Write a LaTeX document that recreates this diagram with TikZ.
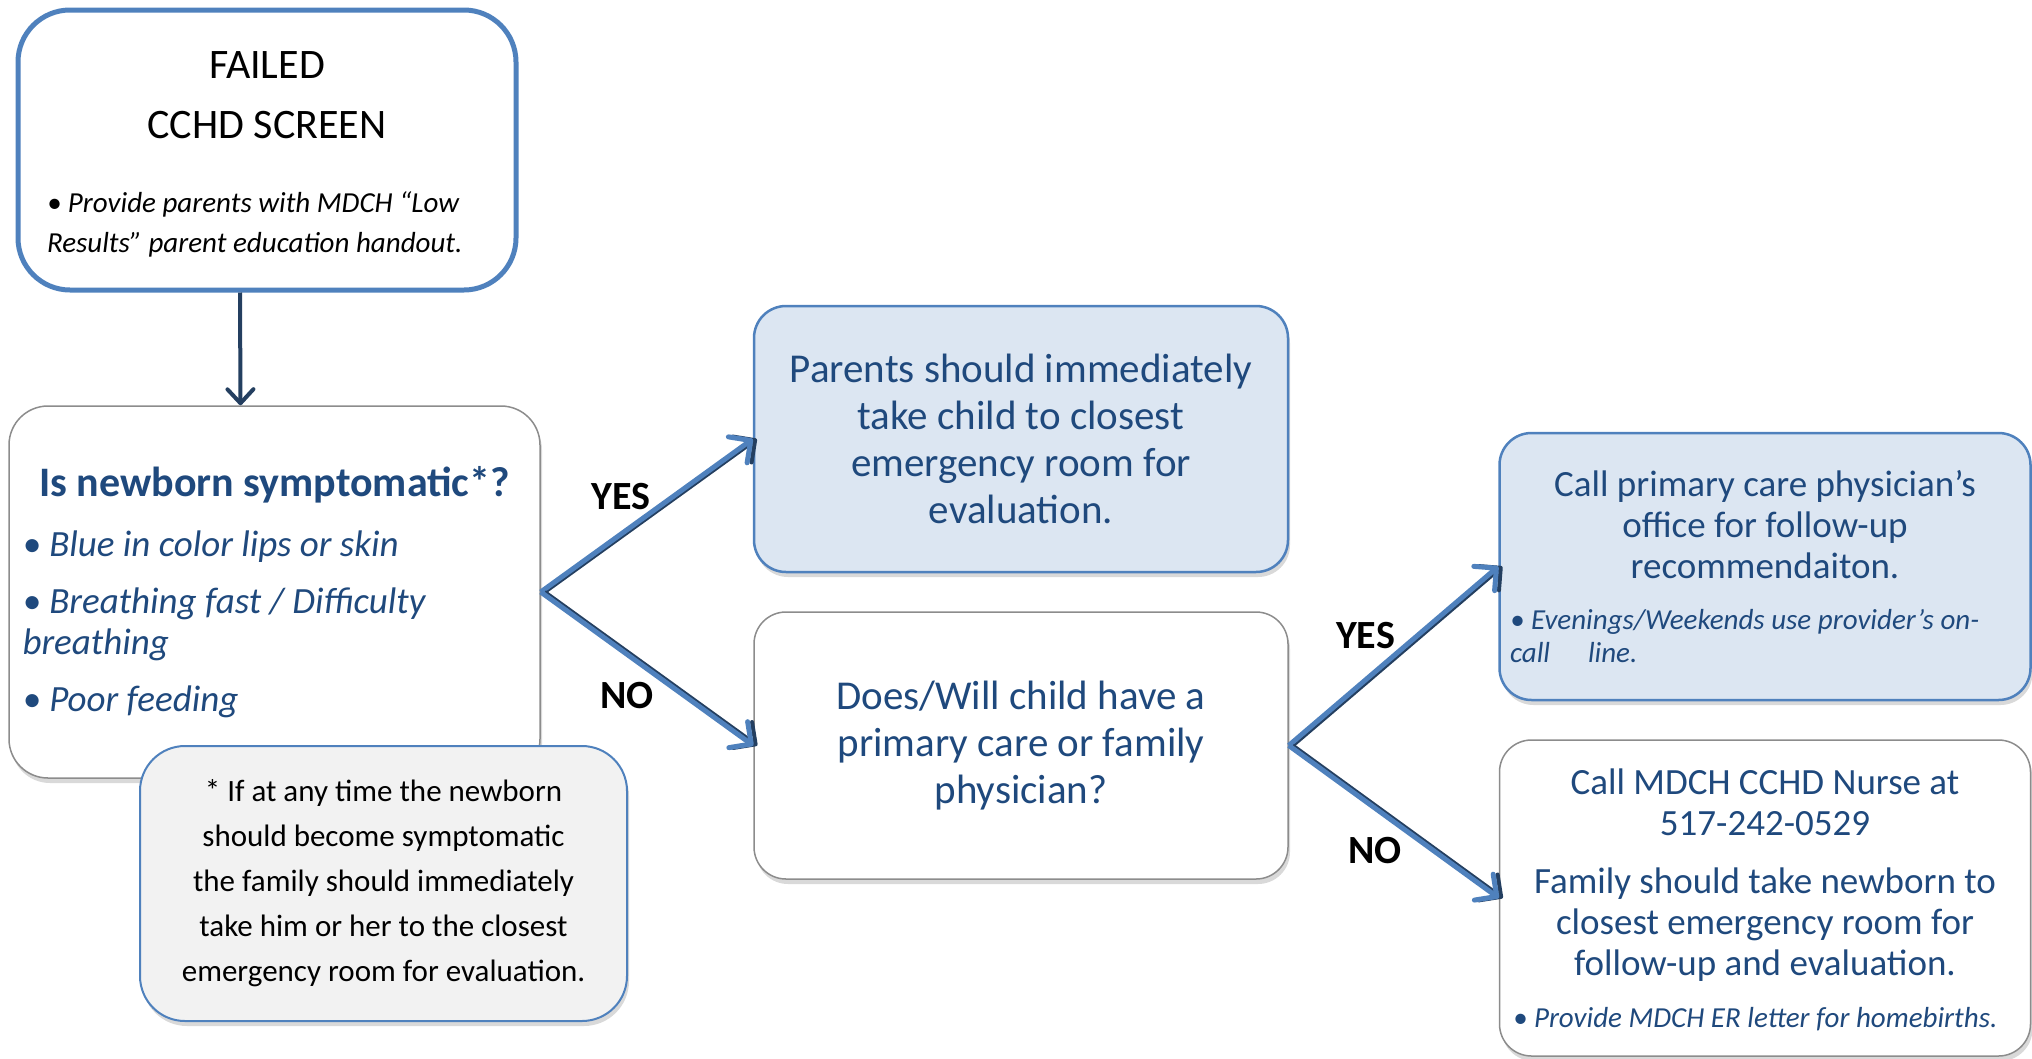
\documentclass[tikz,border=0pt]{standalone}
\usepackage{fontspec}
\setmainfont{Carlito}
\usetikzlibrary{arrows.meta,shadows}

\definecolor{ccblue}{HTML}{4F81BD}
\definecolor{cctext}{HTML}{1F497D}
\definecolor{ccnavy}{HTML}{243F60}
\definecolor{ccfill}{HTML}{DCE6F2}
\definecolor{ccgray}{HTML}{F2F2F2}
\definecolor{ccedge}{HTML}{8C8C8C}

\newcommand{\fsz}[2]{\fontsize{#1}{#2}\selectfont\spaceskip=\fontdimen2\font\relax\xspaceskip=\fontdimen2\font\relax}

\begin{document}
\begin{tikzpicture}[x=1pt,y=-1pt,
  box/.style={rectangle, inner sep=0pt, align=center},
  shade/.style={drop shadow={shadow xshift=2pt, shadow yshift=-5pt, opacity=.3}},
  plainbox/.style={box, draw=ccedge, line width=1.5pt, fill=white, shade, text=cctext},
  bluebox/.style={box, draw=ccblue, line width=2.5pt, fill=ccfill, shade, text=cctext},
  notebox/.style={box, draw=ccblue, line width=2pt, fill=ccgray, shade, rounded corners=45pt},
  down/.style={draw=ccnavy, line width=4pt, -{Straight Barb[round,length=14pt,width=26pt]}},
  branch/.style={draw=ccblue, line width=5pt, -{Straight Barb[round,length=16pt,width=32pt]},
    preaction={draw=ccnavy, line width=4pt, transform canvas={xshift=4pt}}},
  lbl/.style={font=\bfseries\fsz{40}{44}, text=black}]
\useasboundingbox (0,0) rectangle (2032,1058);

\node[box, draw=ccblue, line width=5pt, fill=white, rounded corners=52pt,
  minimum width=498pt, minimum height=280pt, text width=440pt] (fail) at (267,150) {%
  {\fsz{42}{60}FAILED\\CCHD SCREEN\par}
  \vspace{34pt}
  {\raggedright\itshape\fsz{29}{40}• Provide parents with MDCH “Low\\Results” parent education handout.\par}
  \kern-9pt};

\node[plainbox, rounded corners=39pt, minimum width=531pt, minimum height=372pt, text width=504pt] (symp) at (274.5,592) {%
  {\bfseries\fsz{42}{50}Is newborn symptomatic*?\par}
  \vspace{3pt}
  {\raggedright\itshape\fsz{37}{41}\parskip=16pt
  • Blue in color lips or skin\par
  • Breathing fast / Difficulty\\breathing\par
  • Poor feeding\par}};

\node[notebox, minimum width=487pt, minimum height=275pt, text width=470pt] (note) at (383.5,883.5) {%
  \fsz{31}{45}* If at any time the newborn\\should become symptomatic\\the family should immediately\\take him or her to the closest\\emergency room for evaluation.\par};

\node[bluebox, rounded corners=32pt, minimum width=534pt, minimum height=266pt, text width=510pt] (er) at (1021,439) {%
  \fsz{41}{47}Parents should immediately\\take child to closest\\emergency room for\\evaluation.\par};

\node[plainbox, rounded corners=32pt, minimum width=534pt, minimum height=267pt, text width=510pt] (doc) at (1021,745.5) {%
  \fsz{41}{47}Does/Will child have a\\primary care or family\\physician?\par};

\node[bluebox, rounded corners=32pt, minimum width=531pt, minimum height=267pt, text width=510pt] (pcp) at (1765,566.5) {%
  {\fsz{37}{41}Call primary care physician's\\office for follow-up\\recommendaiton.\par}
  \vspace{18pt}
  {\raggedright\itshape\fsz{29}{33}• Evenings/Weekends use provider's on-\\call\hspace{38pt}line.\par}};

\node[plainbox, rounded corners=32pt, minimum width=531pt, minimum height=316pt, text width=504pt] (nurse) at (1765,898) {%
  {\fsz{37}{41}Call MDCH CCHD Nurse at\\517-242-0529\par}
  \vspace{17pt}
  {\fsz{37}{41}Family should take newborn to\\closest emergency room for\\follow-up and evaluation.\par}
  \vspace{19pt}
  {\raggedright\itshape\fsz{29}{33}• Provide MDCH ER letter for homebirths.\par}
  \kern-4pt};

\draw[down] ([xshift=-27pt]fail.south) -- ([xshift=-34pt]symp.north);
\draw[branch] (symp.east) -- node[lbl, xshift=-26pt, yshift=19pt] {YES} (er.west);
\draw[branch] (symp.east) -- node[lbl, xshift=-20pt, yshift=-27pt] {NO} (doc.west);
\draw[branch] (doc.east) -- node[lbl, xshift=-28pt, yshift=20pt] {YES} (pcp.west);
\draw[branch] (doc.east) -- node[lbl, xshift=-19pt, yshift=-29pt] {NO} (nurse.west);
\end{tikzpicture}
\end{document}
